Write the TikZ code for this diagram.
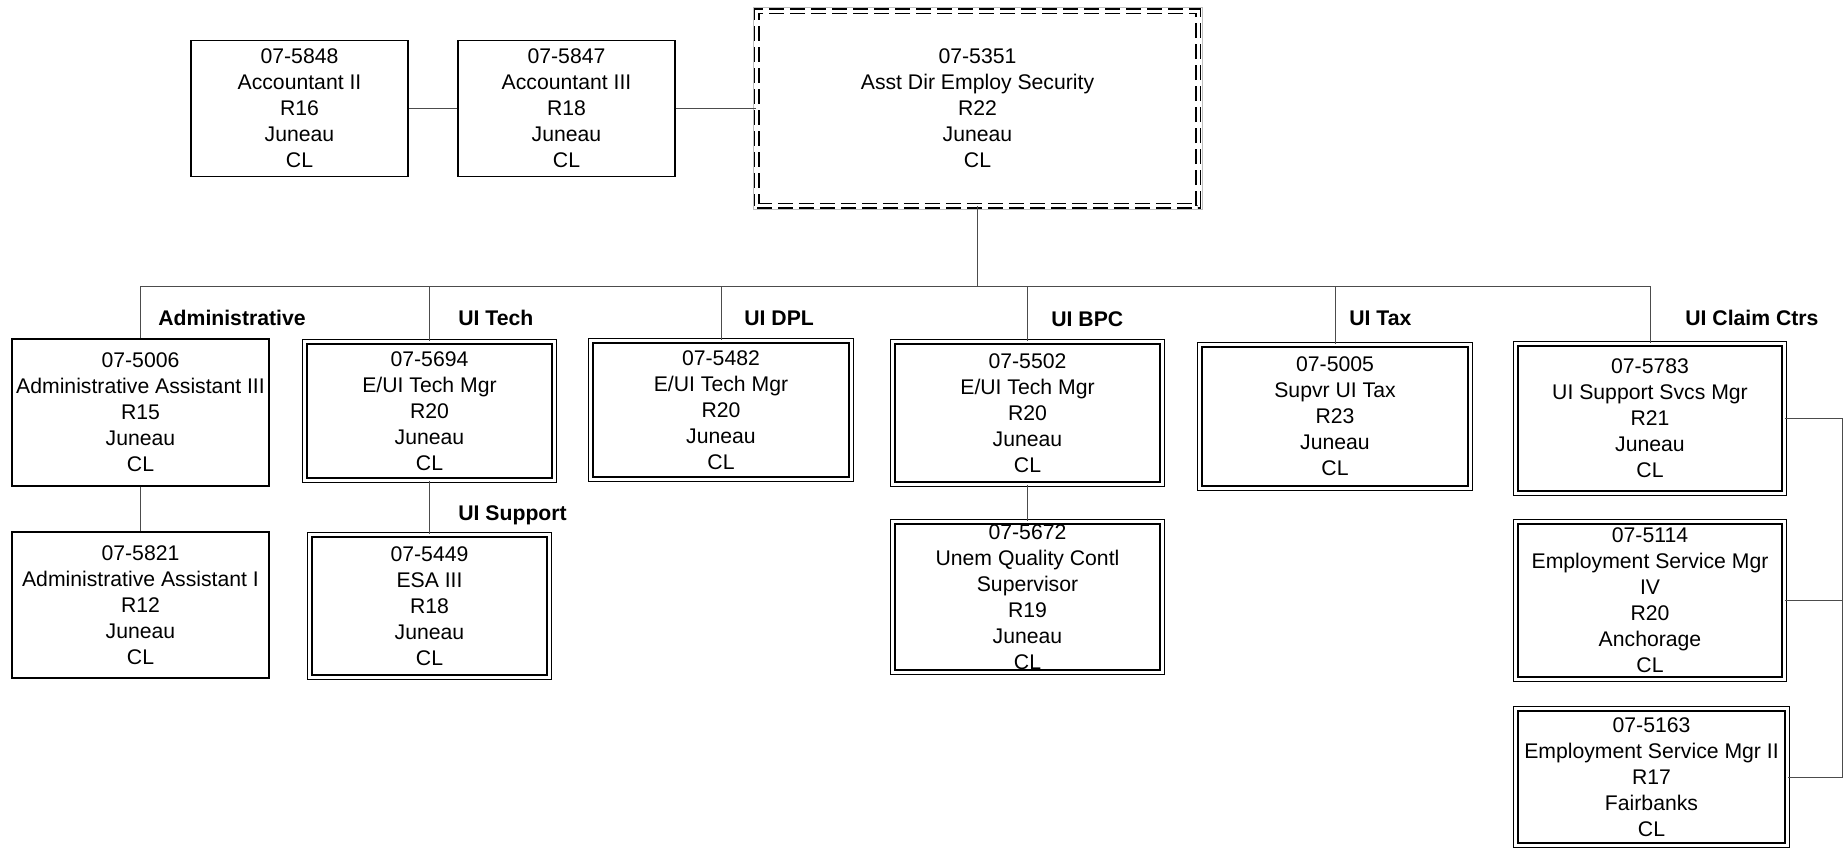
\documentclass[tikz,border=0pt]{standalone}
\usepackage{fontspec}
\setmainfont{Liberation Sans}
\usepackage{tikz}

\begin{document}
\begin{tikzpicture}[
      x=0.5pt, y=-0.5pt,  % one unit is one pixel of the chart
      posbox/.style={draw, line width=0.7pt, inner sep=0pt, align=center,
        font=\fontsize{10.6}{13}\selectfont},
      posdbl/.style={posbox, double, line width=0.6pt, double distance=1.6pt},  % double frame
      unit/.style={anchor=base west, inner sep=0pt, font=\fontsize{10.6}{13}\selectfont\bfseries},
      link/.style={line width=0.5pt, black!70}
    ]
    \useasboundingbox (0,0) rectangle (1847,850);

    % top row
    \node[posdbl, line width=0.8pt, double distance=1.4pt, dash pattern=on 7.5pt off 3pt,
        minimum width=220.7pt, minimum height=97.2pt] (root) at (977.5,108.5)
        {07-5351\\Asst Dir Employ Security\\R22\\Juneau\\CL};
    \draw[black!25, line width=0.4pt] ([shift={(-3,-3)}]root.north west) rectangle ([shift={(3,3)}]root.south east);
    \node[posbox, minimum width=108.5pt, minimum height=68pt] (acc2) at (299.5,108.5)
        {07-5848\\Accountant II\\R16\\Juneau\\CL};
    \node[posbox, minimum width=108.5pt, minimum height=68pt] (acc3) at (566.5,108.5)
        {07-5847\\Accountant III\\R18\\Juneau\\CL};

    % sections
    \node[posbox, minimum width=128.5pt, minimum height=73.5pt] (adm) at (140.5,412.5)
        {07-5006\\Administrative Assistant III\\R15\\Juneau\\CL};
    \node[posbox, minimum width=128.5pt, minimum height=73pt] (adm1) at (140.5,605)
        {07-5821\\Administrative Assistant I\\R12\\Juneau\\CL};
    \node[posdbl, minimum width=124.7pt, minimum height=69.2pt] (tech) at (429.5,411)
        {07-5694\\E/UI Tech Mgr\\R20\\Juneau\\CL};
    \node[posdbl, minimum width=119.7pt, minimum height=71.2pt] (esa) at (429.5,606)
        {07-5449\\ESA III\\R18\\Juneau\\CL};
    \node[posdbl, minimum width=130.2pt, minimum height=69.2pt] (dpl) at (721,410)
        {07-5482\\E/UI Tech Mgr\\R20\\Juneau\\CL};
    \node[posdbl, minimum width=134.7pt, minimum height=71.2pt] (bpc) at (1027.5,413)
        {07-5502\\E/UI Tech Mgr\\R20\\Juneau\\CL};
    \node[posdbl, minimum width=134.7pt, minimum height=75.2pt] (uqc) at (1027.5,597)
        {07-5672\\Unem Quality Contl\\Supervisor\\R19\\Juneau\\CL};
    \node[posdbl, minimum width=135.2pt, minimum height=71.7pt] (tax) at (1335,416.5)
        {07-5005\\Supvr UI Tax\\R23\\Juneau\\CL};
    \node[posdbl, minimum width=134.2pt, minimum height=74.7pt] (uiss) at (1650,418.5)
        {07-5783\\UI Support Svcs Mgr\\R21\\Juneau\\CL};
    \node[posdbl, minimum width=134.2pt, minimum height=78.7pt] (esm4) at (1650,600.5)
        {07-5114\\Employment Service Mgr\\IV\\R20\\Anchorage\\CL};
    \node[posdbl, minimum width=135.7pt, minimum height=68.2pt] (esm2) at (1651.5,777)
        {07-5163\\Employment Service Mgr II\\R17\\Fairbanks\\CL};

    % section names
    \node[unit] (lbadm) at (158,325.6) {Administrative};
    \node[unit] (lbtech) at (458,325.6) {UI Tech};
    \node[unit] (lbsup) at (458,520.6) {UI Support};
    \node[unit] (lbdpl) at (744,325.6) {UI DPL};
    \node[unit] (lbbpc) at (1051,327) {UI BPC};
    \node[unit] (lbtax) at (1349,325.6) {UI Tax};
    \node[unit] (lbclm) at (1685,325.6) {UI Claim Ctrs};

    % lines
    \coordinate (bus) at (977.5,287);
    \coordinate (rail) at (1842,418);
    \draw[link] (acc2) -- (acc3);
    \draw[link] (acc3) -- (root);
    \draw[link] (root) -- (bus);
    \foreach \n in {adm,tech,dpl,bpc,tax,uiss}
        \draw[link] (bus) -| (\n.north);
    \draw[link] (adm) -- (adm1);
    \draw[link] (tech) -- (esa);
    \draw[link] (bpc) -- (uqc);
    \draw[link] (uiss.east) -- (uiss.east -| rail) |- (esm2.east);
    \draw[link] (esm4.east) -- (esm4.east -| rail);
\end{tikzpicture}
\end{document}
